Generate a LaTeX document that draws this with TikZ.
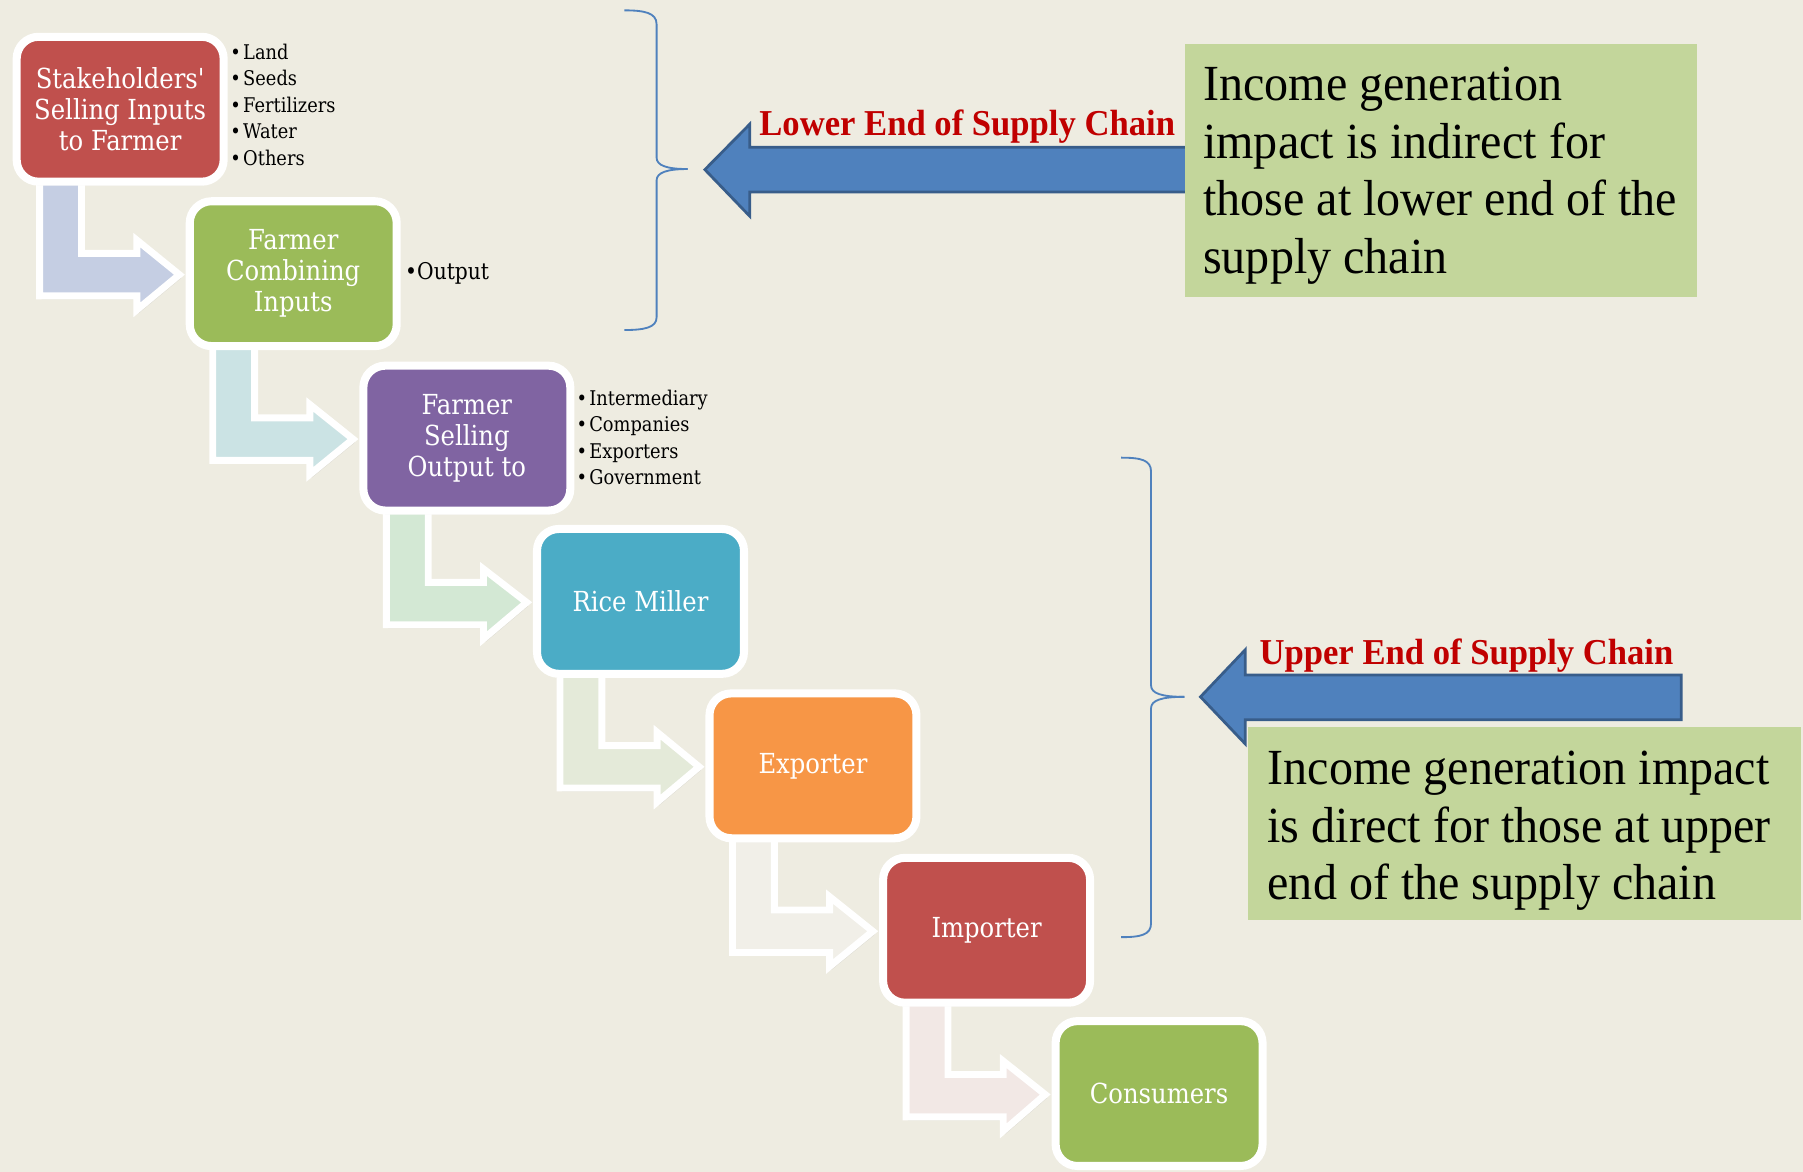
\documentclass[tikz,border=0pt]{standalone}
\usepackage{fontspec}
\usetikzlibrary{shadows,calc}
\newfontfamily\boxfont[FakeStretch=0.88,Ligatures=TeXOff]{DejaVu Serif}
\newfontfamily\timesfont[FakeStretch=0.95]{Liberation Serif}
\definecolor{bgcol}{HTML}{EEECE1}
\definecolor{boxred}{HTML}{C0504D}
\definecolor{boxgreen}{HTML}{9BBB59}
\definecolor{boxpurple}{HTML}{8064A2}
\definecolor{boxblue}{HTML}{4BACC6}
\definecolor{boxorange}{HTML}{F79646}
\definecolor{paleA}{HTML}{C5CEE3}
\definecolor{paleB}{HTML}{CBE3E4}
\definecolor{paleC}{HTML}{D3E8D4}
\definecolor{paleD}{HTML}{E4EAD9}
\definecolor{paleE}{HTML}{F1EFE8}
\definecolor{paleF}{HTML}{F2E8E5}
\definecolor{arrowblue}{HTML}{4F81BD}
\definecolor{arrowdark}{HTML}{385D8A}
\definecolor{notegreen}{HTML}{C3D69B}
\definecolor{labelred}{HTML}{C00000}
\newcommand\bendarrow[3]{%
  \draw[bentarrow, fill=#3]
    ([shift={(-70,55)}]#1) -- ([shift={(-70,162.3)}]#1) -- ([shift={(14.5,162.3)}]#1)
    -- ([shift={(14.5,174.5)}]#1) -- ([shift={(-99,0.85)}]#2) -- ([shift={(14.5,113.8)}]#1)
    -- ([shift={(14.5,125.4)}]#1) -- ([shift={(-33.6,125.4)}]#1) -- ([shift={(-33.6,55)}]#1) -- cycle;}
\begin{document}
\begin{tikzpicture}[x=0.5pt,y={(0pt,-0.5pt)},
  box/.style={rectangle, rounded corners=9.5pt, draw=white, line width=3.5pt,
    minimum width=90pt, minimum height=63pt, inner sep=0pt, text=white, align=center,
    font=\boxfont\fontsize{12}{13.5}\selectfont,
    drop shadow={opacity=0.25, shadow xshift=0pt, shadow yshift=-1.5pt}},
  bentarrow/.style={draw=white, line width=3pt, line join=miter,
    drop shadow={opacity=0.18, shadow xshift=0.8pt, shadow yshift=-1.5pt}},
  listtext/.style={inner sep=0pt, align=left, font=\boxfont\fontsize{8.8}{11.5}\selectfont},
  bluearrow/.style={fill=arrowblue, draw=arrowdark, line width=1.2pt, line join=miter},
  bracestyle/.style={draw=arrowblue, line width=0.8pt},
  notebox/.style={rectangle, fill=notegreen, inner sep=0pt, anchor=north west},
  notetext/.style={inner sep=0pt, align=left, anchor=west, font=\timesfont\fontsize{22}{25}\selectfont},
  redlabel/.style={inner sep=0pt, anchor=base west, text=labelred, font=\timesfont\bfseries\fontsize{15.85}{18}\selectfont}]
\useasboundingbox (0,0) rectangle (1568,1019);
\fill[bgcol] (0,0) rectangle (1568,1019);

% positions of the process boxes
\coordinate (c1) at (104.5,95);
\coordinate (c2) at (255,238);
\coordinate (c3) at (406,381);
\coordinate (c4) at (557,523);
\coordinate (c5) at (707,666);
\coordinate (c6) at (858,809);
\coordinate (c7) at (1008,951);

% bent connectors
\bendarrow{c1}{c2}{paleA}
\bendarrow{c2}{c3}{paleB}
\bendarrow{c3}{c4}{paleC}
\bendarrow{c4}{c5}{paleD}
\bendarrow{c5}{c6}{paleE}
\bendarrow{c6}{c7}{paleF}

% process boxes
\node[box, fill=boxred]    (b1) at (c1) {Stakeholders'\\Selling Inputs\\to Farmer};
\node[box, fill=boxgreen]  (b2) at (c2) {Farmer\\Combining\\Inputs};
\node[box, fill=boxpurple] (b3) at (c3) {Farmer\\Selling\\Output to};
\node[box, fill=boxblue]   (b4) at (c4) {Rice Miller};
\node[box, fill=boxorange] (b5) at (c5) {Exporter};
\node[box, fill=boxred]    (b6) at (c6) {Importer};
\node[box, fill=boxgreen]  (b7) at (c7) {Consumers};

% bullet lists
\node[listtext, anchor=west] (l1) at (200,91) {•\kern1pt Land\\•\kern1pt Seeds\\•\kern1pt Fertilizers\\•\kern1pt Water\\•\kern1pt Others};
\node[listtext, anchor=west, font=\boxfont\fontsize{10}{12}\selectfont] (l2) at (352,238) {•Output};
\node[listtext, anchor=west] (l3) at (501,380.5) {•\kern1pt Intermediary\\•\kern1pt Companies\\•\kern1pt Exporters\\•\kern1pt Government};

% braces
\draw[bracestyle] (543,9) .. controls (560,9) and (571,11) .. (571,21) -- (571,137)
  .. controls (571,144) and (580,147) .. (598,147);
\draw[bracestyle] (598,147) .. controls (580,147) and (571,150) .. (571,157) -- (571,276)
  .. controls (571,285) and (560,287) .. (543,287);
\draw[bracestyle] (975,398) .. controls (992,398) and (1001,400) .. (1001,410) -- (1001,596)
  .. controls (1001,603) and (1010,606) .. (1030,606);
\draw[bracestyle] (1030,606) .. controls (1010,606) and (1001,609) .. (1001,616) -- (1001,803)
  .. controls (1001,813) and (992,815) .. (975,815);

% big blue arrows
\draw[bluearrow] (1040,128) -- (652,128) -- (652,108) -- (613,147.5) -- (652,188) -- (652,167) -- (1040,167);
\draw[bluearrow] (1462,587) -- (1083,587) -- (1083,565) -- (1044,606) -- (1083,647) -- (1083,626) -- (1462,626) -- cycle;

% note boxes
\node[notebox, minimum width=222.5pt, minimum height=110pt] (g1) at (1030,38) {};
\node[notebox, minimum width=240.5pt, minimum height=84pt] (g2) at (1085,632) {};
\node[notetext] (t1) at (1046,153) {Income generation\\impact is indirect for\\those at lower end of the\\supply chain};
\node[notetext] (t2) at (1102,722.5) {Income generation impact\\is direct for those at upper\\end of the supply chain};

% labels
\node[redlabel] (lab1) at (660,118) {Lower End of Supply Chain};
\node[redlabel] (lab2) at (1095,578) {Upper End of Supply Chain};
\end{tikzpicture}
\end{document}
